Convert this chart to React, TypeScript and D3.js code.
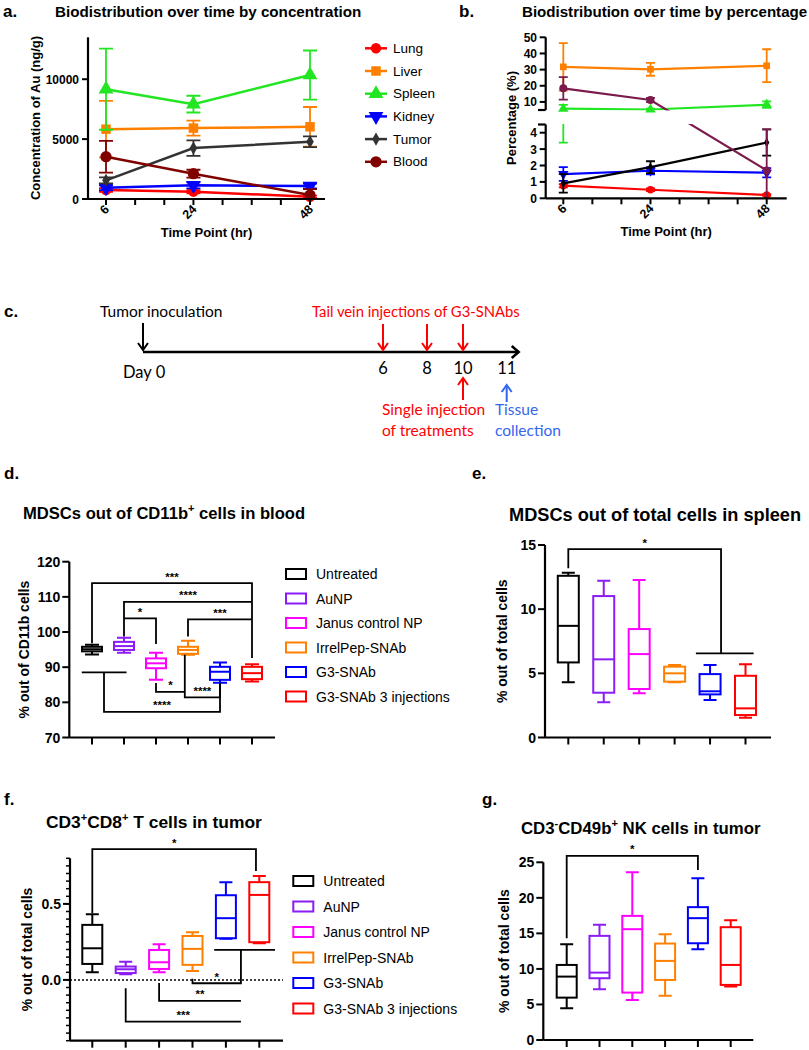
import React from "react";
import * as d3 from "d3";

const FONT = "'Liberation Sans', Arial, sans-serif";
const FONT_C = "Lato, 'Open Sans', sans-serif";

// ---------- a / b : biodistribution ----------
const timePoints = [6, 24, 48];
const timeTicks = [6, 12, 18, 24, 30, 36, 42, 48];
const organs = ["Lung", "Liver", "Spleen", "Kidney", "Tumor", "Blood"];
const colorsA = ["#ff0000", "#ff8000", "#22e622", "#0000ff", "#333333", "#800000"];
const colorsB = ["#ff0000", "#ff8000", "#22e622", "#0000ff", "#000000", "#7b1a4b"];

// concentration of Au (ng/g), mean and SD
const lungConc = [750, 610, 190];
const lungConcSd = [150, 130, 90];
const liverConc = [5830, 5920, 6030];
const liverConcSd = [2360, 630, 1650];
const spleenConc = [9170, 7920, 10350];
const spleenConcSd = [3390, 700, 2050];
const kidneyConc = [940, 1140, 1080];
const kidneyConcSd = [200, 250, 200];
const tumorConc = [1560, 4250, 4780];
const tumorConcSd = [250, 650, 450];
const bloodConc = [3530, 2110, 330];
const bloodConcSd = [1330, 330, 500];

// percentage (%), mean and SD
const lungPct = [0.77, 0.52, 0.2];
const lungPctSd = [0.1, 0.08, 0.05];
const liverPct = [31.7, 30.2, 32.4];
const liverPctSd = [14.7, 4.0, 10.2];
const spleenPct = [5.8, 5.3, 8.3];
const spleenPctSd = [2.4, 0.5, 2.0];
const kidneyPct = [1.48, 1.68, 1.56];
const kidneyPctSd = [0.42, 0.22, 0.28];
const tumorPct = [0.91, 1.9, 3.4];
const tumorPctSd = [0.56, 0.36, 0.8];
const bloodPct = [18.4, 11.2, 1.7];
const bloodPctSd = [7.0, 1.3, 2.5];

const concMeans = [lungConc, liverConc, spleenConc, kidneyConc, tumorConc, bloodConc];
const concSds = [lungConcSd, liverConcSd, spleenConcSd, kidneyConcSd, tumorConcSd, bloodConcSd];
const pctMeans = [lungPct, liverPct, spleenPct, kidneyPct, tumorPct, bloodPct];
const pctSds = [lungPctSd, liverPctSd, spleenPctSd, kidneyPctSd, tumorPctSd, bloodPctSd];

// ---------- c : timeline ----------
const timelineDays = [0, 6, 8, 10, 11];
const injectionDays = [6, 8, 10];
const treatmentDay = 10;
const collectionDay = 11;

// ---------- d-g : box plots ----------
const groups = ["Untreated", "AuNP", "Janus control NP", "IrrelPep-SNAb", "G3-SNAb", "G3-SNAb 3 injections"];
const groupColors = ["#000000", "#8a1cf5", "#ff00ff", "#ff8000", "#0000ff", "#ff0000"];

// [min, q1, median, q3, max]
const mdscBlood = [
  [93.6, 94.5, 95.1, 95.8, 96.4],
  [94.1, 94.9, 96.0, 97.2, 98.4],
  [86.4, 89.7, 91.1, 92.5, 94.1],
  [93.5, 93.8, 94.9, 95.8, 97.5],
  [85.6, 86.4, 88.7, 90.1, 91.3],
  [85.9, 86.6, 88.3, 90.1, 90.8],
];
const mdscSpleen = [
  [4.3, 5.85, 8.7, 12.6, 12.84],
  [2.74, 3.49, 6.09, 11.02, 12.21],
  [3.44, 3.78, 6.5, 8.45, 12.27],
  [4.3, 4.35, 5.0, 5.52, 5.65],
  [2.92, 3.36, 3.6, 4.94, 5.65],
  [1.54, 1.75, 2.27, 4.81, 5.7],
];
const cd8Tumor = [
  [0.05, 0.105, 0.208, 0.362, 0.432],
  [0.037, 0.045, 0.07, 0.088, 0.12],
  [0.05, 0.072, 0.116, 0.197, 0.235],
  [0.059, 0.099, 0.204, 0.289, 0.314],
  [0.27, 0.274, 0.406, 0.557, 0.643],
  [0.241, 0.248, 0.559, 0.643, 0.684],
];
const nkTumor = [
  [4.46, 5.96, 8.92, 10.56, 13.48],
  [7.14, 8.69, 9.48, 14.65, 16.2],
  [5.63, 6.67, 15.59, 17.46, 23.6],
  [6.24, 8.45, 11.13, 13.57, 14.89],
  [12.77, 13.61, 17.14, 18.69, 22.77],
  [7.51, 7.75, 10.56, 15.87, 16.86],
];

// significance brackets: group index (x1, x2), level, leg ends, stars
const mdscBloodSig = [
  { x1: 0, x2: 5, y: 113.9, l1: 96.8, l2: 92.6, label: "***" },
  { x1: 1, x2: 5, y: 108.6, l1: 98.7, l2: 108.6, label: "****" },
  { x1: 1, x2: 2, y: 103.9, l1: 103.9, l2: 96.6, label: "*" },
  { x1: 3, x2: 5, y: 103.6, l1: 98.7, l2: 103.6, label: "***" },
  { x1: 0.375, x2: 4, y: 77.3, l1: 88.55, l2: 85.4, label: "****" },
  { x1: 2.9, x2: 4, y: 81.4, l1: 93.5, l2: 85.4, label: "****" },
  { x1: 2, x2: 2.9, y: 83.0, l1: 85.5, l2: 83.0, label: "*" },
];
const mdscBloodBars = [{ x1: -0.32, x2: 1.08, y: 88.55 }];
const mdscSpleenSig = [{ x1: 0, x2: 4.31, y: 14.68, l1: 13.18, l2: 6.56, label: "*" }];
const mdscSpleenBars = [{ x1: 3.6, x2: 5.23, y: 6.56 }];
const cd8Sig = [
  { x1: 0, x2: 4.9, y: 0.86, l1: 0.439, l2: 0.717, label: "*" },
  { x1: 3, x2: 4.45, y: -0.022, l1: 0.007, l2: 0.197, label: "*" },
  { x1: 2, x2: 4.45, y: -0.138, l1: -0.02, l2: -0.138, label: "**" },
  { x1: 1, x2: 4.45, y: -0.274, l1: -0.055, l2: -0.274, label: "***" },
];
const cd8Bars = [{ x1: 3.65, x2: 5.47, y: 0.197 }];
const nkSig = [{ x1: 0, x2: 4, y: 25.9, l1: 14.3, l2: 23.9, label: "*" }];

// ---------- helpers ----------
const symbolTypes = [d3.symbolCircle, d3.symbolSquare, d3.symbolTriangle, d3.symbolTriangle, d3.symbolDiamond, d3.symbolCircle];
const symbolFlip = [false, false, false, true, false, false];

function Marker({ i, x, y, color, scale }: any) {
  const sizes = [85, 90, 95, 95, 50, 100];
  const d = d3.symbol().type(symbolTypes[i]).size(sizes[i] * scale)() as string;
  return <path d={d} transform={`translate(${x},${y})${symbolFlip[i] ? " rotate(180)" : ""}`} fill={color} />;
}

function errPath(x: number, yLo: number, yHi: number, cap: number, capLo = true) {
  let p = `M${x},${yHi}V${yLo}M${x - cap / 2},${yHi}H${x + cap / 2}`;
  if (capLo) p += `M${x - cap / 2},${yLo}H${x + cap / 2}`;
  return p;
}

function TimeAxisX({ xs, y, x0, x1 }: any) {
  return (
    <g>
      <line x1={x0} x2={x1} y1={y} y2={y} stroke="#000" strokeWidth={2.2} />
      {timeTicks.map((t) => (
        <line key={t} x1={xs(t)} x2={xs(t)} y1={y} y2={y + 6} stroke="#000" strokeWidth={2} />
      ))}
      {timePoints.map((t) => (
        <text key={t} transform={`translate(${xs(t) + 4},${y + 11}) rotate(-45)`} textAnchor="end"
          fontSize={12.5} fontWeight="bold">{t}</text>
      ))}
      <text x={(x0 + x1) / 2} y={y + 38} textAnchor="middle" fontSize={13} fontWeight="bold">Time Point (hr)</text>
    </g>
  );
}

function PanelA() {
  const xs = d3.scaleLinear().domain([6, 48]).range([106, 310]);
  const ys = d3.scaleLinear().domain([0, 13500]).range([199, 37.3]);
  const line = d3.line<number>().x((_, j) => xs(timePoints[j])).y((v) => ys(v));
  return (
    <g>
      <text x={3} y={17} fontSize={17} fontWeight="bold">a.</text>
      <text x={55} y={16.5} fontSize={15.2} fontWeight="bold">Biodistribution over time by concentration</text>
      {organs.map((o, i) => (
        <g key={o}>
          <path d={line(concMeans[i]) as string} fill="none" stroke={colorsA[i]} strokeWidth={2.5} />
          {concMeans[i].map((m, j) => {
            const lo = Math.max(0, m - concSds[i][j]);
            return (
              <path key={j} d={errPath(xs(timePoints[j]), ys(lo), ys(m + concSds[i][j]), 14, m - concSds[i][j] > 0)}
                stroke={colorsA[i]} strokeWidth={1.8} fill="none" />
            );
          })}
          {concMeans[i].map((m, j) => (
            <Marker key={"m" + j} i={i} x={xs(timePoints[j])} y={ys(m)} color={colorsA[i]} scale={1} />
          ))}
        </g>
      ))}
      <line x1={88} x2={88} y1={37.3} y2={199} stroke="#000" strokeWidth={2.2} />
      {[0, 5000, 10000].map((t) => (
        <g key={t}>
          <line x1={82} x2={88} y1={ys(t)} y2={ys(t)} stroke="#000" strokeWidth={2} />
          <text x={79} y={ys(t) + 4.5} textAnchor="end" fontSize={12} fontWeight="bold">{t}</text>
        </g>
      ))}
      <TimeAxisX xs={xs} y={199} x0={88} x1={325} />
      <text transform="translate(40,118) rotate(-90)" textAnchor="middle" fontSize={13} fontWeight="bold">
        Concentration of Au (ng/g)
      </text>
      {organs.map((o, i) => {
        const y = 48.3 + i * 22.7;
        return (
          <g key={o}>
            <line x1={365} x2={387} y1={y} y2={y} stroke={colorsA[i]} strokeWidth={2.5} />
            <Marker i={i} x={376} y={y} color={colorsA[i]} scale={1} />
            <text x={393} y={y + 4.5} fontSize={13.5}>{o}</text>
          </g>
        );
      })}
    </g>
  );
}

function PanelB() {
  const xs = d3.scaleLinear().domain([6, 48]).range([563.3, 766.7]);
  const ys = d3.scaleLinear().domain([0, 4.5, 5, 50]).range([198.3, 124.5, 110, 37.3]);
  const line = d3.line<number>().x((_, j) => xs(timePoints[j])).y((v) => ys(v));
  return (
    <g>
      <defs>
        <clipPath id="bclip">
          <rect x={540} y={25} width={260} height={85.5} />
          <rect x={540} y={124} width={260} height={80} />
        </clipPath>
      </defs>
      <text x={459} y={17} fontSize={17} fontWeight="bold">b.</text>
      <text x={522} y={16.5} fontSize={15.1} fontWeight="bold">Biodistribution over time by percentage</text>
      {organs.map((o, i) => (
        <g key={o}>
          <g clipPath="url(#bclip)">
            <path d={line(pctMeans[i]) as string} fill="none" stroke={colorsB[i]} strokeWidth={2.2} />
            {pctMeans[i].map((m, j) => {
              const lo = Math.max(0, m - pctSds[i][j]);
              return (
                <path key={j} d={errPath(xs(timePoints[j]), ys(lo), ys(m + pctSds[i][j]), 9, m - pctSds[i][j] > 0)}
                  stroke={colorsB[i]} strokeWidth={1.8} fill="none" />
              );
            })}
          </g>
          {pctMeans[i].map((m, j) => (
            <Marker key={"m" + j} i={i} x={xs(timePoints[j])} y={ys(m)} color={colorsB[i]} scale={0.5} />
          ))}
        </g>
      ))}
      <line x1={545.7} x2={545.7} y1={ys(50)} y2={ys(5)} stroke="#000" strokeWidth={2.2} />
      <line x1={545.7} x2={545.7} y1={ys(4.5)} y2={ys(0)} stroke="#000" strokeWidth={2.2} />
      {[10, 20, 30, 40, 50, 0, 1, 2, 3, 4].map((t) => (
        <g key={t}>
          <line x1={539.7} x2={545.7} y1={ys(t)} y2={ys(t)} stroke="#000" strokeWidth={2} />
          <text x={537} y={ys(t) + 4.5} textAnchor="end" fontSize={12} fontWeight="bold">{t}</text>
        </g>
      ))}
      {[5, 4.5].map((t) => (
        <line key={t} x1={538} x2={545.7} y1={ys(t)} y2={ys(t)} stroke="#000" strokeWidth={2.2} />
      ))}
      <TimeAxisX xs={xs} y={198.3} x0={545.7} x1={786.7} />
      <text transform="translate(516,118) rotate(-90)" textAnchor="middle" fontSize={13} fontWeight="bold">
        Percentage (%)
      </text>
    </g>
  );
}

function Arrow({ x, y1, y2, color }: any) {
  const dir = y2 > y1 ? 1 : -1;
  return (
    <g stroke={color} strokeWidth={2} fill="none">
      <line x1={x} x2={x} y1={y1} y2={y2} />
      <polyline points={`${x - 5},${y2 - dir * 7} ${x},${y2} ${x + 5},${y2 - dir * 7}`} />
    </g>
  );
}

function PanelC() {
  const xs = d3.scaleLinear().domain(timelineDays).range([143, 383, 427, 463, 506.7]);
  const yLine = 352;
  const fs = 15.5;
  return (
    <g fontFamily={FONT_C}>
      <text x={4} y={317} fontSize={17} fontWeight="bold" fontFamily={FONT}>c.</text>
      <line x1={xs(0)} x2={xs(11) + 12} y1={yLine} y2={yLine} stroke="#000" strokeWidth={2.5} />
      <polyline points={`${xs(11) + 5},${yLine - 6} ${xs(11) + 12},${yLine} ${xs(11) + 5},${yLine + 6}`}
        stroke="#000" strokeWidth={2.5} fill="none" />
      <Arrow x={xs(0)} y1={323} y2={350} color="#000" />
      <text x={100} y={317} fontSize={fs}>Tumor inoculation</text>
      <text x={123} y={378} fontSize={16.5}>Day 0</text>
      {injectionDays.map((d) => (
        <Arrow key={d} x={xs(d)} y1={324} y2={350} color="#ff0000" />
      ))}
      <text x={312} y={317} fontSize={14.8} fill="#ff0000">Tail vein injections of G3-SNAbs</text>
      {timelineDays.slice(1).map((d) => (
        <text key={d} x={xs(d)} y={374} fontSize={16.5} textAnchor="middle">{d}</text>
      ))}
      <Arrow x={xs(treatmentDay)} y1={400} y2={378} color="#ff0000" />
      <text x={382} y={415} fontSize={fs} fill="#ff0000">Single injection</text>
      <text x={382} y={436} fontSize={fs} fill="#ff0000">of treatments</text>
      <Arrow x={xs(collectionDay)} y1={402} y2={385} color="#3366ee" />
      <text x={495} y={415} fontSize={fs} fill="#3366ee">Tissue</text>
      <text x={495} y={436} fontSize={fs} fill="#3366ee">collection</text>
    </g>
  );
}

function BoxPanel({ stats, xs, ys, axisX, axisV, ticks, minorTicks, fmt, yLabel, yLabelX, sig, bars, zeroLine, boxW, capW }: any) {
  const yBot = ys(axisV[0]);
  return (
    <g>
      {stats.map((s: number[], i: number) => {
        const x = xs(i);
        const c = groupColors[i];
        return (
          <g key={i} stroke={c} strokeWidth={2} fill="none">
            <path d={`M${x},${ys(s[0])}V${ys(s[1])}M${x},${ys(s[3])}V${ys(s[4])}`} />
            <path d={`M${x - capW / 2},${ys(s[0])}H${x + capW / 2}M${x - capW / 2},${ys(s[4])}H${x + capW / 2}`} />
            <rect x={x - boxW / 2} y={ys(s[3])} width={boxW} height={ys(s[1]) - ys(s[3])} />
            <line x1={x - boxW / 2} x2={x + boxW / 2} y1={ys(s[2])} y2={ys(s[2])} />
          </g>
        );
      })}
      {zeroLine && (
        <line x1={axisX[0]} x2={axisX[1]} y1={ys(0)} y2={ys(0)} stroke="#000" strokeWidth={1.5} strokeDasharray="2,2" />
      )}
      <g stroke="#000" strokeWidth={1.8} fill="none">
        {sig.map((b: any, k: number) => (
          <path key={k} d={`M${xs(b.x1)},${ys(b.l1)}V${ys(b.y)}H${xs(b.x2)}V${ys(b.l2)}`} />
        ))}
        {bars.map((b: any, k: number) => (
          <line key={"b" + k} x1={xs(b.x1)} x2={xs(b.x2)} y1={ys(b.y)} y2={ys(b.y)} />
        ))}
      </g>
      {sig.map((b: any, k: number) => (
        <text key={"t" + k} x={(xs(b.x1) + xs(b.x2)) / 2} y={ys(b.y) - 2.5} textAnchor="middle" fontSize={11.5}
          fontWeight="bold">{b.label}</text>
      ))}
      <line x1={axisX[0]} x2={axisX[0]} y1={ys(axisV[1])} y2={yBot} stroke="#000" strokeWidth={2.2} />
      <line x1={axisX[0]} x2={axisX[1]} y1={yBot} y2={yBot} stroke="#000" strokeWidth={2.2} />
      {stats.map((_: any, i: number) => (
        <line key={i} x1={xs(i)} x2={xs(i)} y1={yBot} y2={yBot + 7} stroke="#000" strokeWidth={2} />
      ))}
      {(minorTicks || []).map((t: number, k: number) => (
        <line key={"mt" + k} x1={axisX[0] - 4} x2={axisX[0]} y1={ys(t)} y2={ys(t)} stroke="#000" strokeWidth={1.5} />
      ))}
      {ticks.map((t: number) => (
        <g key={t}>
          <line x1={axisX[0] - 7} x2={axisX[0]} y1={ys(t)} y2={ys(t)} stroke="#000" strokeWidth={2} />
          <text x={axisX[0] - 9} y={ys(t) + 5} textAnchor="end" fontSize={14} fontWeight="bold">{fmt(t)}</text>
        </g>
      ))}
      <text transform={`translate(${yLabelX},${(ys(axisV[0]) + ys(axisV[1])) / 2}) rotate(-90)`} textAnchor="middle"
        fontSize={14} fontWeight="bold">{yLabel}</text>
    </g>
  );
}

function Legend({ x, y0, step }: any) {
  return (
    <g>
      {groups.map((g, i) => (
        <g key={g}>
          <rect x={x} y={y0 + i * step - 5} width={20} height={10} fill="none" stroke={groupColors[i]} strokeWidth={2} />
          <text x={x + 30} y={y0 + i * step + 5} fontSize={14}>{g}</text>
        </g>
      ))}
    </g>
  );
}

export default function App() {
  const fmt0 = (v: number) => String(v);
  const fmt1 = d3.format(".1f");
  return (
    <div style={{ position: "absolute", left: 0, top: 0 }}>
      <svg width={809} height={1050} style={{ display: "block", background: "#fff" }} fontFamily={FONT}>
        <PanelA />
        <PanelB />
        <PanelC />

        {/* d */}
        <text x={4} y={479} fontSize={17} fontWeight="bold">d.</text>
        <text x={23} y={519} fontSize={16.6} fontWeight="bold">
          MDSCs out of CD11b<tspan dy={-7} fontSize={11}>+</tspan><tspan dy={7}> cells in blood</tspan>
        </text>
        <BoxPanel stats={mdscBlood}
          xs={d3.scaleLinear().domain([0, 5]).range([92, 252])}
          ys={d3.scaleLinear().domain([70, 120]).range([737.5, 561.7])}
          axisX={[69.3, 275]} axisV={[70, 120]} ticks={[70, 80, 90, 100, 110, 120]} fmt={fmt0}
          yLabel="% out of CD11b cells" yLabelX={29} sig={mdscBloodSig} bars={mdscBloodBars} boxW={20} capW={14} />
        <Legend x={286} y0={574} step={24.5} />

        {/* e */}
        <text x={472} y={479} fontSize={17} fontWeight="bold">e.</text>
        <text x={509} y={521} fontSize={18.2} fontWeight="bold">MDSCs out of total cells in spleen</text>
        <BoxPanel stats={mdscSpleen}
          xs={d3.scaleLinear().domain([0, 5]).range([568.3, 745.5])}
          ys={d3.scaleLinear().domain([0, 15]).range([737.5, 545])}
          axisX={[545, 771]} axisV={[0, 15]} ticks={[0, 5, 10, 15]} fmt={fmt0}
          yLabel="% out of total cells" yLabelX={506.5} sig={mdscSpleenSig} bars={mdscSpleenBars} boxW={21} capW={13} />

        {/* f */}
        <text x={4} y={805} fontSize={17} fontWeight="bold">f.</text>
        <text x={46} y={828} fontSize={17.4} fontWeight="bold">
          CD3<tspan dy={-7} fontSize={11}>+</tspan><tspan dy={7}>CD8</tspan><tspan dy={-7} fontSize={11}>+</tspan>
          <tspan dy={7}> T cells in tumor</tspan>
        </text>
        <BoxPanel stats={cd8Tumor}
          xs={d3.scaleLinear().domain([0, 5]).range([92.3, 259.3])}
          ys={d3.scaleLinear().domain([-0.4, 0.8]).range([1040.7, 858.3])}
          axisX={[70, 283]} axisV={[-0.4, 0.8]} ticks={[0, 0.5]} fmt={fmt1}
          minorTicks={d3.range(-8, 17).map((k) => k * 0.05)}
          yLabel="% out of total cells" yLabelX={32} sig={cd8Sig} bars={cd8Bars} zeroLine boxW={20} capW={13} />
        <Legend x={293.3} y0={881} step={25.5} />

        {/* g */}
        <text x={482} y={805} fontSize={17} fontWeight="bold">g.</text>
        <text x={521} y={834} fontSize={16.8} fontWeight="bold">
          CD3<tspan dy={-7} fontSize={11}>-</tspan><tspan dy={7}>CD49b</tspan><tspan dy={-7} fontSize={11}>+</tspan>
          <tspan dy={7}> NK cells in tumor</tspan>
        </text>
        <BoxPanel stats={nkTumor}
          xs={d3.scaleLinear().domain([0, 5]).range([566.7, 730.7])}
          ys={d3.scaleLinear().domain([0, 25]).range([1040, 862.3])}
          axisX={[543.3, 753.3]} axisV={[0, 25]} ticks={[0, 5, 10, 15, 20, 25]} fmt={fmt0}
          yLabel="% out of total cells" yLabelX={509} sig={nkSig} bars={[]} boxW={20} capW={13} />
      </svg>
    </div>
  );
}
